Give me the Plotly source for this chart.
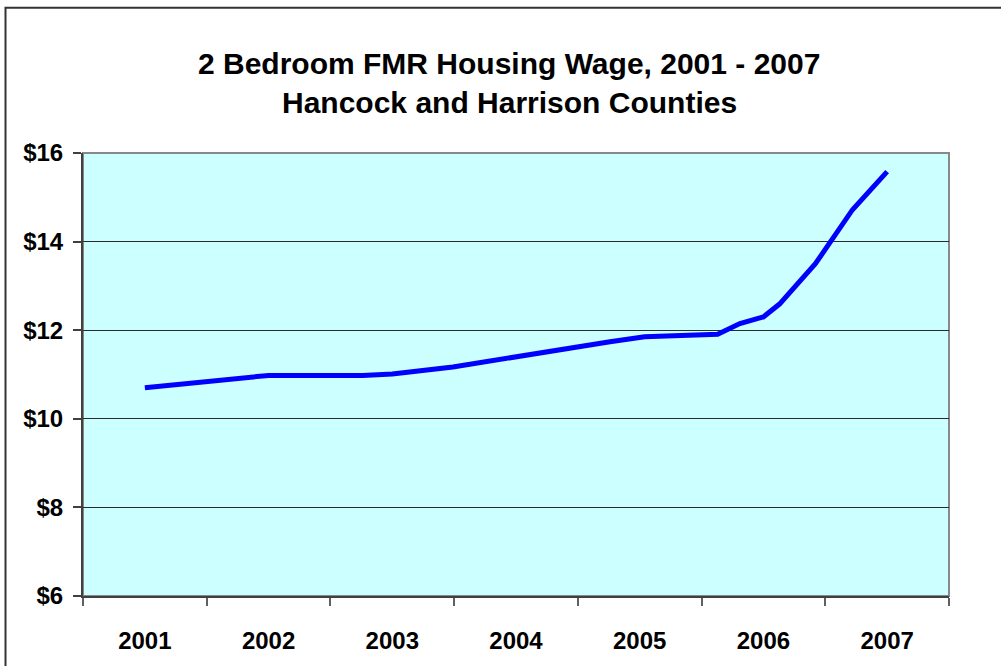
import plotly.graph_objects as go

# Data
year_labels = ["2001", "2002", "2003", "2004", "2005", "2006", "2007"]
label_pos = [2001, 2002, 2003, 2004, 2005, 2006, 2007]
time_points = [2001.0, 2002.0, 2002.76, 2003.0, 2003.49, 2004.14, 2004.76, 2005.04,
               2005.41, 2005.63, 2005.81, 2006.0, 2006.13, 2006.42, 2006.72, 2007.0]
housing_wage = [10.70, 10.98, 10.98, 11.01, 11.17, 11.47, 11.74, 11.85,
                11.88, 11.91, 12.15, 12.30, 12.59, 13.50, 14.72, 15.58]
y_ticks = [6, 8, 10, 12, 14, 16]

title_line1 = "2 Bedroom FMR Housing Wage, 2001 - 2007"
title_line2 = "Hancock and Harrison Counties"

FONT = "Liberation Sans, Arial, sans-serif"

fig = go.Figure()
fig.add_trace(go.Scatter(
    x=time_points, y=housing_wage, mode="lines",
    line=dict(color="#0000FF", width=5), hoverinfo="skip", showlegend=False,
))

fig.update_layout(
    width=1001, height=666,
    margin=dict(l=83, r=52, t=153, b=63),
    paper_bgcolor="white", plot_bgcolor="#CCFFFF",
    font=dict(family=FONT, color="black"),
    showlegend=False,
)

fig.update_xaxes(
    range=[2000.5, 2007.5], tickmode="array", tickvals=label_pos, ticktext=year_labels,
    ticks="", showgrid=False, zeroline=False,
    showline=True, linecolor="#404040", linewidth=2,
    tickfont=dict(family=FONT, size=24, weight="bold", color="black"),
    ticklabelstandoff=22,
    minor=dict(tickmode="linear", tick0=2000.5, dtick=1, ticks="outside",
               ticklen=8, tickwidth=2, tickcolor="#606060", showgrid=False),
)
fig.update_yaxes(
    range=[6, 16], tickmode="array", tickvals=y_ticks,
    ticktext=["$" + str(v) for v in y_ticks],
    ticks="outside", ticklen=8, tickwidth=1.5, tickcolor="#404040",
    showgrid=True, gridcolor="#2a2a2a", gridwidth=1, zeroline=False,
    showline=True, linecolor="#404040", linewidth=2,
    tickfont=dict(family=FONT, size=24, weight="bold", color="black"),
    ticklabelstandoff=5,
)

# plot-area border (top/right gray)
fig.add_shape(type="rect", xref="paper", yref="paper", x0=0, y0=0, x1=1, y1=1,
              line=dict(color="#888888", width=2), fillcolor="rgba(0,0,0,0)", layer="below")
# outer chart border
fig.add_shape(type="rect", xref="paper", yref="paper",
              x0=(5.5 - 83) / 866, x1=(1010 - 83) / 866,
              y0=(603 - 680) / 450, y1=(603 - 5.5) / 450,
              line=dict(color="#333333", width=2), fillcolor="rgba(0,0,0,0)")

fig.add_annotation(text=title_line1, xref="paper", yref="paper",
                   x=(509 - 83) / 866, y=(603 - 62) / 450, xanchor="center", yanchor="middle",
                   showarrow=False, font=dict(family=FONT, size=30, weight="bold", color="black"))
fig.add_annotation(text=title_line2, xref="paper", yref="paper",
                   x=(509 - 83) / 866, y=(603 - 102) / 450, xanchor="center", yanchor="middle",
                   showarrow=False, font=dict(family=FONT, size=30, weight="bold", color="black"))

fig.write_html("out.html", config={"displayModeBar": False},
               post_script="document.body.style.margin='0';")
